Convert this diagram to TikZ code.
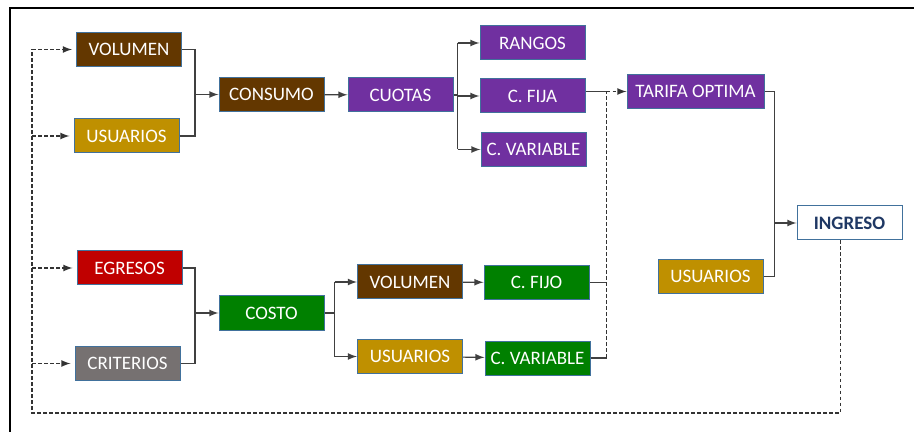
\documentclass[tikz,border=0pt]{standalone}
\usepackage{fontspec}
\setmainfont{Carlito}
\usetikzlibrary{arrows,positioning,calc}

\definecolor{cafe}{HTML}{633700}
\definecolor{oro}{HTML}{BF9000}
\definecolor{morado}{HTML}{7030A0}
\definecolor{rojo}{HTML}{C00000}
\definecolor{verde}{HTML}{008000}
\definecolor{gris}{HTML}{767171}
\definecolor{borde}{HTML}{41719C}
\definecolor{marino}{HTML}{1F3864}

\tikzset{
  box/.style={draw=borde, line width=0.5pt, minimum width=52.5pt, minimum height=17pt,
    inner sep=1pt, text=white, font=\fontsize{9.5}{11}\selectfont},
  link/.style={draw=black!75, line width=0.6pt, >=latex},
  fb/.style={draw=black!80, line width=0.6pt, dash pattern=on 1.8pt off 1.2pt, >=latex}
}

\begin{document}
\begin{tikzpicture}[x=0.5pt, y=-0.5pt]
        \useasboundingbox (0,0) rectangle (914,432);
        \draw[line width=1pt] (10,432) -- (10,8) -- (914,8);

        % consumo branch
        \node[box, fill=cafe] (vol) at (129,49.5) {VOLUMEN};
        \node[box, fill=oro] (usu) at (126.5,136) {USUARIOS};
        \node[box, fill=cafe] (cons) at (271.5,94.5) {CONSUMO};
        \node[box, fill=morado] (cuot) at (400.5,95) {CUOTAS};
        \node[box, fill=morado] (rang) at (532.5,43) {RANGOS};
        \node[box, fill=morado] (cfija) at (532.5,96) {C. FIJA};
        \node[box, fill=morado] (cvar) at (533.5,149.5) {C. VARIABLE};
        \node[box, fill=morado, minimum width=68.5pt] (tarifa) at (695.5,91.5) {TARIFA OPTIMA};

        % costo branch
        \node[box, fill=rojo] (egr) at (129.5,268) {EGRESOS};
        \node[box, fill=gris] (crit) at (127.5,363.5) {CRITERIOS};
        \node[box, fill=verde] (costo) at (271.5,313) {COSTO};
        \node[box, fill=cafe] (vol2) at (410,282) {VOLUMEN};
        \node[box, fill=oro] (usu2) at (410,356.5) {USUARIOS};
        \node[box, fill=verde] (cfijo) at (536.5,282.5) {C. FIJO};
        \node[box, fill=verde] (cvar2) at (537.5,358) {C. VARIABLE};

        % ingreso
        \node[box, fill=oro] (usu3) at (710.5,276.5) {USUARIOS};
        \node[box, fill=white, text=marino, font=\fontsize{9.5}{11}\selectfont\bfseries] (ingreso) at (849.5,223) {INGRESO};

        \coordinate (j1) at (195,94.5);
        \coordinate (j2) at (195,313);
        \coordinate (jc) at ($(cuot.east)+(4,0)$);
        \coordinate (jk) at ($(costo.east)+(10,0)$);
        \coordinate (jt) at ($(tarifa.west)+(-20,0)$);
        \coordinate (ji) at ($(ingreso.west)+(-22,0)$);
        \coordinate (fb) at (32,413);

        \draw[link] (vol.east) -| (j1);
        \draw[link] (usu.east) -| (j1);
        \draw[link, ->] (j1) -- (cons);
        \draw[link, ->] (cons) -- (cuot);
        \draw[link] (cuot.east) -- (jc);
        \draw[link] (jc |- rang) -- (jc |- cvar);
        \foreach \n in {rang,cfija,cvar}
            \draw[link, ->] (jc |- \n) -- (\n.west);

        \draw[link] (egr.east) -| (j2);
        \draw[link] (crit.east) -| (j2);
        \draw[link, ->] (j2) -- (costo);
        \draw[link] (costo.east) -- (jk);
        \draw[link] (jk |- vol2) -- (jk |- usu2);
        \foreach \n in {vol2,usu2}
            \draw[link, ->] (jk |- \n) -- (\n.west);
        \draw[link, ->] (vol2) -- (cfijo);
        \draw[link, ->] (usu2) -- (cvar2);

        \draw[link] (cfija.east |- tarifa) -- (jt);
        \draw[link] (cfijo.east) -- (jt |- cfijo);
        \draw[link] (cvar2.east) -- (jt |- cvar2);
        \draw[fb] (jt |- cvar2) -- (jt);
        \draw[fb, ->] (jt) -- (tarifa.west);

        \draw[link] (tarifa.east) -| (ji);
        \draw[link] (usu3.east) -| (ji);
        \draw[link, ->] (ji) -- (ingreso);

        % feedback
        \draw[fb] ($(ingreso.south)+(-9,0)$) |- (fb) -- (fb |- vol.west);
        \foreach \n in {vol,usu,egr,crit}
            \draw[fb, ->, shorten >=2pt] (fb |- \n.west) -- (\n.west);
    \end{tikzpicture}
\end{document}
